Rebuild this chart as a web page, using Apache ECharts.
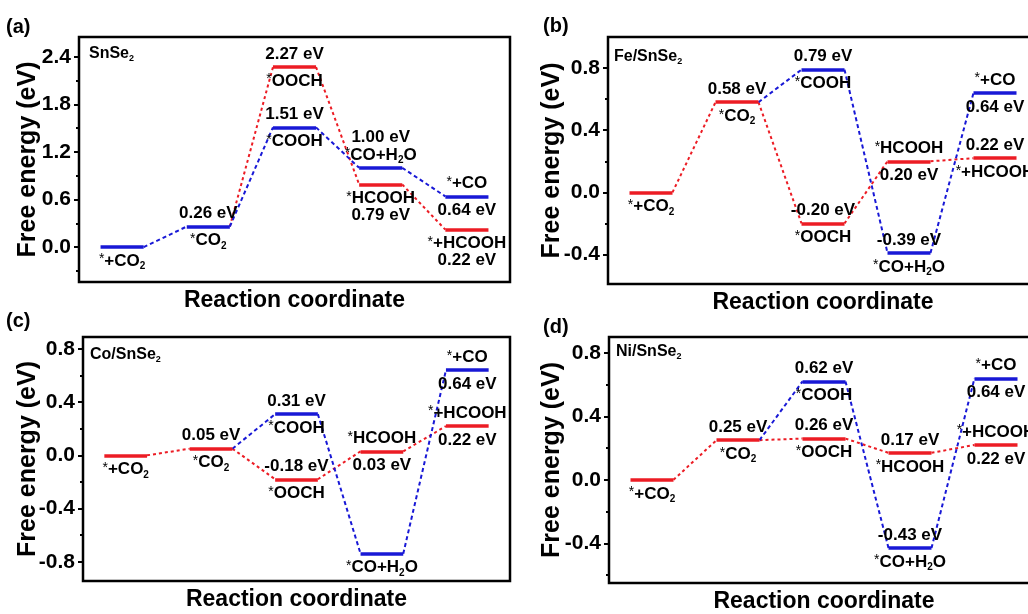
<!DOCTYPE html>
<html lang="en">
<head>
  <meta charset="UTF-8">
  <title>Free energy diagrams</title>
  <script src="https://cdn.jsdelivr.net/npm/echarts@6/dist/echarts.min.js"></script>
  <style>
    html, body { margin: 0; padding: 0; background: #fff; }
    #chart { width: 1028px; height: 614px; }
  </style>
</head>
<body>
  <div id="chart"></div>
  <script>
    // energies along each pathway, one value per step (null = path not started yet)
    // steps: *+CO2, *CO2, *COOH/*OOCH, *CO+H2O/*HCOOH, *+CO/*+HCOOH
    const aRedPath  = [null, 0.26, 2.27, 0.79, 0.22];
    const aBluePath = [0, 0.26, 1.51, 1.00, 0.64];
    const bRedPath  = [0, 0.58, -0.20, 0.20, 0.22];
    const bBluePath = [null, 0.58, 0.79, -0.39, 0.64];
    const cRedPath  = [0, 0.05, -0.18, 0.03, 0.22];
    const cBluePath = [null, 0.05, 0.31, -0.74, 0.64];
    const dRedPath  = [0, 0.25, 0.26, 0.17, 0.22];
    const dBluePath = [null, 0.25, 0.62, -0.43, 0.64];

    // level labels: [step, energy, species, species slot, value slot] (slot: -2/-1 above, 1/2 below, 0 none)
    const aLabels = [
      [0, 0, '*+CO_2', 1, 0], [1, 0.26, '*CO_2', 1, -1],
      [2, 2.27, '*OOCH', 1, -1], [2, 1.51, '*COOH', 1, -1],
      [3, 1.00, '*CO+H_2O', -1, -2], [3, 0.79, '*HCOOH', 1, 2],
      [4, 0.64, '*+CO', -1, 1], [4, 0.22, '*+HCOOH', 1, 2]
    ];
    const bLabels = [
      [0, 0, '*+CO_2', 1, 0], [1, 0.58, '*CO_2', 1, -1],
      [2, 0.79, '*COOH', 1, -1], [2, -0.20, '*OOCH', 1, -1],
      [3, 0.20, '*HCOOH', -1, 1], [3, -0.39, '*CO+H_2O', 1, -1],
      [4, 0.64, '*+CO', -1, 1], [4, 0.22, '*+HCOOH', 1, -1]
    ];
    const cLabels = [
      [0, 0, '*+CO_2', 1, 0], [1, 0.05, '*CO_2', 1, -1],
      [2, 0.31, '*COOH', 1, -1], [2, -0.18, '*OOCH', 1, -1],
      [3, 0.03, '*HCOOH', -1, 1], [3, -0.74, '*CO+H_2O', 1, 0],
      [4, 0.64, '*+CO', -1, 1], [4, 0.22, '*+HCOOH', -1, 1]
    ];
    const dLabels = [
      [0, 0, '*+CO_2', 1, 0], [1, 0.25, '*CO_2', 1, -1],
      [2, 0.62, '*COOH', 1, -1], [2, 0.26, '*OOCH', 1, -1],
      [3, 0.17, '*HCOOH', 1, -1], [3, -0.43, '*CO+H_2O', 1, -1],
      [4, 0.64, '*+CO', -1, 1], [4, 0.22, '*+HCOOH', -1, 1]
    ];

    const panelTags = ['(a)', '(b)', '(c)', '(d)'];
    const catalysts = ['SnSe_2', 'Fe/SnSe_2', 'Co/SnSe_2', 'Ni/SnSe_2'];
    const yMin = [-0.44, -0.59, -0.945, -0.65];
    const yMax = [2.65, 1.0, 0.89, 0.9];
    const yMajor = [[0, 0.6, 1.2, 1.8, 2.4], [-0.4, 0, 0.4, 0.8], [-0.8, -0.4, 0, 0.4, 0.8], [-0.4, 0, 0.4, 0.8]];
    const yMinor = [[-0.3, 0.3, 0.9, 1.5, 2.1], [-0.2, 0.2, 0.6], [-0.6, -0.2, 0.2, 0.6], [-0.6, -0.2, 0.2, 0.6]];

    const RED = '#ec1c24';
    const BLUE = '#1818d6';
    const FONT = '"Liberation Sans", Arial, sans-serif';

    const panels = [
      { red: aRedPath, blue: aBluePath, labels: aLabels, shared: BLUE, nameGap: 38,
        grid: { left: 79, top: 37, width: 431, height: 245 }, tag: [6, 17], cat: [89, 44] },
      { red: bRedPath, blue: bBluePath, labels: bLabels, shared: RED, nameGap: 43,
        grid: { left: 608, top: 37, width: 430, height: 247 }, tag: [543, 16], cat: [614, 47] },
      { red: cRedPath, blue: cBluePath, labels: cLabels, shared: RED, nameGap: 42,
        grid: { left: 83, top: 337, width: 427, height: 244 }, tag: [6, 311], cat: [90, 345] },
      { red: dRedPath, blue: dBluePath, labels: dLabels, shared: RED, nameGap: 44,
        grid: { left: 609, top: 337, width: 430, height: 246 }, tag: [543, 317], cat: [616, 342] }
    ];

    const slotOffset = { '-2': -31, '-1': -13, '1': 14, '2': 31 };
    const sub = s => s.replace(/_(\d)/g, '{s|$1}').replace(/\*/g, '{a|*}');
    const lvStart = i => 2 * i + 0.5;
    const lvEnd = i => 2 * i + 1.5;

    const grids = [], xAxes = [], yAxes = [], series = [], titles = [];

    panels.forEach((p, k) => {
      grids.push(Object.assign({ show: true, borderColor: '#000', borderWidth: 2.5, backgroundColor: 'transparent',
        containLabel: false, outerBoundsMode: 'none' }, p.grid));

      xAxes.push({
        type: 'value', gridIndex: k, min: 0, max: 10,
        axisLine: { show: false }, axisTick: { show: false }, axisLabel: { show: false }, splitLine: { show: false },
        name: 'Reaction coordinate', nameLocation: 'middle', nameGap: 7, nameMoveOverlap: false,
        nameTextStyle: { fontFamily: FONT, fontWeight: 'bold', fontSize: 23, color: '#000', verticalAlign: 'top' }
      });

      yAxes.push({
        type: 'value', gridIndex: k, position: 'left', min: yMin[k], max: yMax[k],
        axisLine: { show: false }, splitLine: { show: false },
        axisTick: { show: true, inside: false, length: 5, lineStyle: { color: '#000', width: 2 }, customValues: yMajor[k] },
        axisLabel: { customValues: yMajor[k], formatter: v => v.toFixed(1), margin: 8,
          fontFamily: FONT, fontWeight: 'bold', fontSize: 21, color: '#000' },
        name: 'Free energy (eV)', nameLocation: 'middle', nameGap: p.nameGap, nameMoveOverlap: false,
        nameTextStyle: { fontFamily: FONT, fontWeight: 'bold', fontSize: 25, color: '#000' }
      });
      yAxes.push({
        type: 'value', gridIndex: k, position: 'left', min: yMin[k], max: yMax[k],
        axisLine: { show: false }, splitLine: { show: false }, axisLabel: { show: false },
        axisTick: { show: true, inside: false, length: 3, lineStyle: { color: '#000', width: 2 }, customValues: yMinor[k] }
      });

      // energy levels
      const redLv = [], blueLv = [], redCn = [], blueCn = [];
      for (let i = 0; i < 5; i++) {
        const r = p.red[i], b = p.blue[i];
        if (r != null && b != null && r === b) {
          (p.shared === RED ? redLv : blueLv).push([[lvStart(i), r], [lvEnd(i), r]]);
        } else {
          if (r != null) redLv.push([[lvStart(i), r], [lvEnd(i), r]]);
          if (b != null) blueLv.push([[lvStart(i), b], [lvEnd(i), b]]);
        }
        if (i < 4) {
          if (r != null && p.red[i + 1] != null) redCn.push([[lvEnd(i), r], [lvStart(i + 1), p.red[i + 1]]]);
          if (b != null && p.blue[i + 1] != null) blueCn.push([[lvEnd(i), b], [lvStart(i + 1), p.blue[i + 1]]]);
        }
      }
      const mk = (segs, color, width, type, z) => ({
        type: 'lines', coordinateSystem: 'cartesian2d', xAxisIndex: k, yAxisIndex: 2 * k,
        polyline: false, silent: true, z: z, animation: false,
        lineStyle: { color: color, width: width, type: type, opacity: 1 },
        data: segs.map(s => ({ coords: s }))
      });
      series.push(mk(redCn, RED, 2, [3, 3], 2));
      series.push(mk(blueCn, BLUE, 2, [4, 3], 2));
      series.push(mk(redLv, RED, 3.5, 'solid', 3));
      series.push(mk(blueLv, BLUE, 3.5, 'solid', 3));

      // text labels at the levels
      const lab = [];
      p.labels.forEach(([step, e, name, ns, vs]) => {
        const x = (lvStart(step) + lvEnd(step)) / 2;
        lab.push({ value: [x, e], label: { formatter: sub(name), offset: [0, slotOffset[ns]] } });
        if (vs !== 0) lab.push({ value: [x, e], label: { formatter: e.toFixed(2) + ' eV', offset: [0, slotOffset[vs]] } });
      });
      series.push({
        type: 'scatter', xAxisIndex: k, yAxisIndex: 2 * k, symbolSize: 0, clip: false,
        silent: true, z: 5, animation: false,
        itemStyle: { color: '#000' },
        label: {
          show: true, position: 'inside', align: 'center', verticalAlign: 'middle',
          fontFamily: FONT, fontWeight: 'bold', fontSize: 17, color: '#000', opacity: 1,
          textBorderWidth: 0, textBorderColor: 'transparent',
          rich: {
            s: { fontFamily: FONT, fontWeight: 'bold', fontSize: 10, color: '#000', padding: [11, 0, 0, 0] },
            a: { fontFamily: FONT, fontWeight: 'normal', fontSize: 14, color: '#000', padding: [0, 0, 3, 0] }
          }
        },
        data: lab
      });

      titles.push({ text: panelTags[k], left: p.tag[0], top: p.tag[1], padding: 0,
        textStyle: { fontFamily: FONT, fontWeight: 'bold', fontSize: 20, color: '#000' } });
      titles.push({ text: sub(catalysts[k]), left: p.cat[0], top: p.cat[1], padding: 0,
        textStyle: { fontFamily: FONT, fontWeight: 'bold', fontSize: 16, color: '#000',
          rich: { s: { fontFamily: FONT, fontWeight: 'bold', fontSize: 9, color: '#000', padding: [10, 0, 0, 0] } } } });
    });

    const chart = echarts.init(document.getElementById('chart'), null, { renderer: 'canvas' });
    chart.setOption({
      animation: false,
      backgroundColor: '#fff',
      title: titles,
      grid: grids,
      xAxis: xAxes,
      yAxis: yAxes,
      series: series
    });
  </script>
</body>
</html>
